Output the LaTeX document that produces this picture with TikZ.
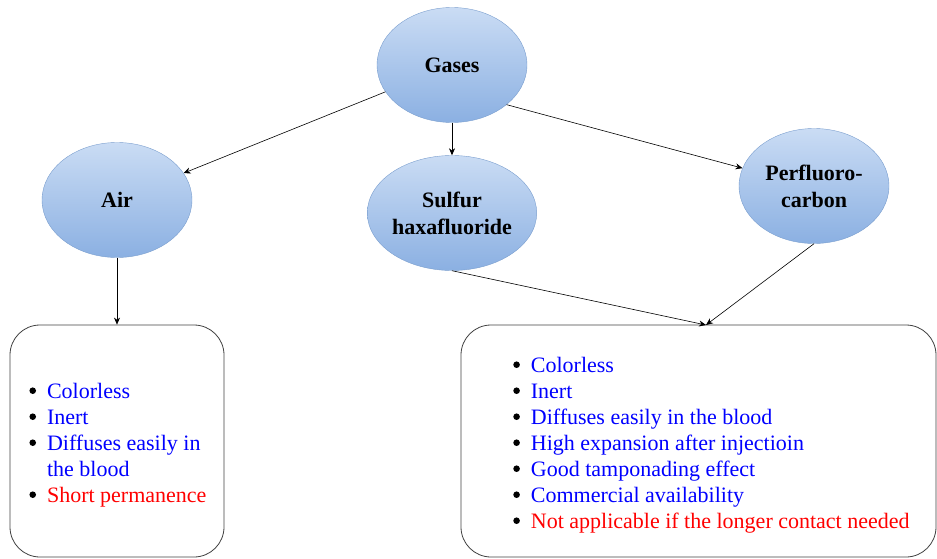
\documentclass[tikz,border=0pt]{standalone}
\usepackage{fontspec}
\setmainfont{Liberation Serif}
\definecolor{listblue}{rgb}{0,0,1}
\definecolor{listred}{rgb}{1,0,0}
\definecolor{balltop}{RGB}{202,220,244}
\definecolor{ballbot}{RGB}{139,176,226}
\definecolor{ballrim}{RGB}{122,158,206}
\definecolor{boxrim}{gray}{0.25}
\usepackage{tikz}
\usetikzlibrary{arrows.meta,shapes.geometric}
\tikzset{
  gasball/.style={ellipse,draw=ballrim,top color=balltop,bottom color=ballbot,
    minimum width=150pt,minimum height=115pt,inner sep=0pt,align=center,
    font=\fontsize{22}{27}\selectfont\bfseries},
  infobox/.style={draw=boxrim,thick,rounded corners=30pt,minimum height=232pt,
    inner sep=0pt,font=\fontsize{22}{26}\selectfont},
  link/.style={-{Stealth[length=7pt,width=6pt]},semithick},
}
\newcommand{\bul}{\hspace{1.9pt}\tikz[baseline=-7.5pt]\fill (0pt,0pt) circle[radius=3.3pt];\hspace{1.9pt}}
\newcommand{\okit}[1]{\textcolor{listblue}{#1}}
\newcommand{\badit}[1]{\textcolor{listred}{#1}}

\begin{document}
\begin{tikzpicture}[x=1pt,y=-1pt]
  \useasboundingbox (0,0) rectangle (937,559);
  % --- gas types ---
  \node[gasball] (gases)  at (452,65)  {Gases};
  \node[gasball] (air)    at (117,200) {Air};
  \node[gasball] (sulfur) at (452,213) {Sulfur\\haxafluoride};
  \node[gasball] (perfl)  at (814,186) {Perfluoro-\\carbon};
  % --- property boxes ---
  \node[infobox,minimum width=214pt] (lbox) at (117,441) {\raisebox{-4pt}[\height][\depth]{%
    \begin{tabular}{@{}l@{\hspace{11pt}}l@{}}
      \bul & \okit{Colorless}\\
      \bul & \okit{Inert}\\
      \bul & \okit{Diffuses easily in}\\
           & \okit{the blood}\\
      \bul & \badit{Short permanence}
    \end{tabular}}};
  \node[infobox,minimum width=475pt] (rbox) at (698.5,441) {\raisebox{-4pt}[\height][\depth]{%
    \begin{tabular}{@{\hspace{24pt}}l@{\hspace{11pt}}l@{}}
      \bul & \okit{Colorless}\\
      \bul & \okit{Inert}\\
      \bul & \okit{Diffuses easily in the blood}\\
      \bul & \okit{High expansion after injectioin}\\
      \bul & \okit{Good tamponading effect}\\
      \bul & \okit{Commercial availability}\\
      \bul & \badit{Not applicable if the longer contact needed}
    \end{tabular}}};
  \coordinate (rjoin) at (706,325);
  % connectors
  \draw[link] (gases) -- (air);
  \draw[link] (gases.south) -- (sulfur.north);
  \draw[link] (gases.-36) -- (perfl.166);
  \draw[link] (air.south) -- (lbox.north);
  \draw[link] (sulfur.south) -- (rjoin);
  \draw[link] (perfl.south) -- (rjoin);
\end{tikzpicture}
\end{document}
